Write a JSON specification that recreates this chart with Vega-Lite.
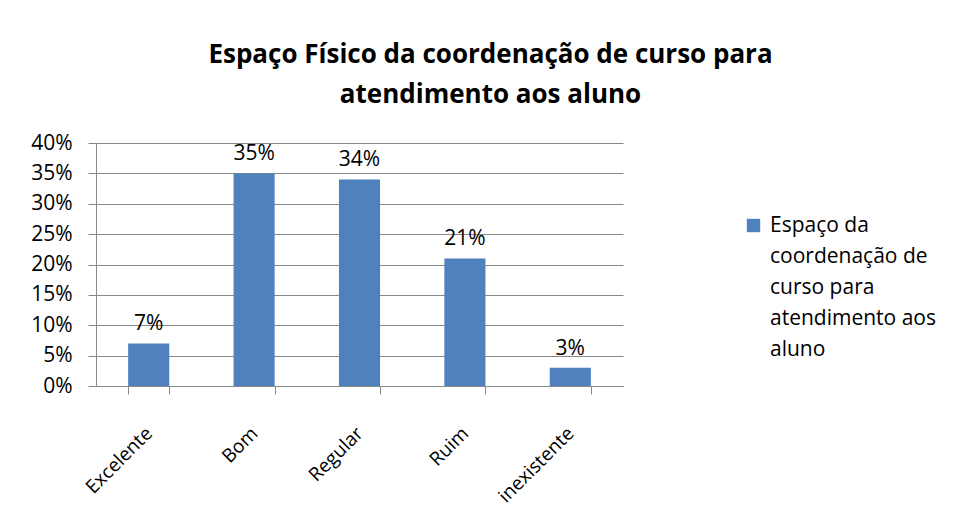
{
  "$schema": "https://vega.github.io/schema/vega-lite/v6.json",
  "autosize": {"type": "none"},
  "width": 527,
  "height": 243,
  "padding": {"left": 96, "top": 143, "right": 331, "bottom": 133},
  "background": "white",
  "title": {
    "text": ["Espaço Físico da coordenação de curso para", "atendimento aos aluno"],
    "font": "Open Sans",
    "fontSize": 26,
    "fontWeight": "bold",
    "color": "#000000",
    "lineHeight": 40,
    "anchor": "middle",
    "frame": "group",
    "dx": 131,
    "offset": 24
  },
  "data": {
    "values": [
      {"categoria": "Excelente", "valor": 0.07, "serie": "Espaço da coordenação de curso para atendimento aos aluno"},
      {"categoria": "Bom", "valor": 0.35, "serie": "Espaço da coordenação de curso para atendimento aos aluno"},
      {"categoria": "Regular", "valor": 0.34, "serie": "Espaço da coordenação de curso para atendimento aos aluno"},
      {"categoria": "Ruim", "valor": 0.21, "serie": "Espaço da coordenação de curso para atendimento aos aluno"},
      {"categoria": "inexistente", "valor": 0.03, "serie": "Espaço da coordenação de curso para atendimento aos aluno"}
    ]
  },
  "encoding": {
    "x": {
      "field": "categoria",
      "type": "nominal",
      "sort": null,
      "scale": {"paddingInner": 0.61, "paddingOuter": 0.305},
      "axis": {
        "title": null,
        "labelAngle": -45,
        "labelAlign": "right",
        "labelBaseline": "middle",
        "labelFont": "Open Sans",
        "labelFontSize": 19,
        "labelColor": "#000000",
        "labelPadding": 36,
        "labelDx": 6,
        "domainColor": "#888888",
        "tickColor": "#888888",
        "tickSize": 8,
        "tickBand": "extent",
        "grid": false
      }
    },
    "y": {
      "field": "valor",
      "type": "quantitative",
      "scale": {"domain": [0, 0.4]},
      "axis": {
        "title": null,
        "format": ".0%",
        "values": [0, 0.05, 0.1, 0.15, 0.2, 0.25, 0.3, 0.35, 0.4],
        "labelFont": "Open Sans",
        "labelFontSize": 21,
        "labelColor": "#000000",
        "labelPadding": 16,
        "domainColor": "#888888",
        "tickColor": "#888888",
        "tickSize": 8,
        "gridColor": "#888888",
        "gridWidth": 1.2,
        "grid": true
      }
    }
  },
  "layer": [
    {
      "mark": {"type": "bar", "color": "#4F81BD"},
      "encoding": {
        "color": {
          "field": "serie",
          "type": "nominal",
          "scale": {"range": ["#4F81BD"]},
          "legend": {
            "title": null,
            "orient": "none",
            "legendX": 647,
            "legendY": 72,
            "symbolType": "square",
            "symbolSize": 180,
            "symbolOpacity": 1,
            "labelFont": "Open Sans",
            "labelFontSize": 21,
            "labelColor": "#000000",
            "labelLimit": 300,
            "labelOffset": 6,
            "labelExpr": "['Espaço da', 'coordenação de', 'curso para', 'atendimento aos', 'aluno']",
            "encode": {"labels": {"update": {"lineHeight": {"value": 31}, "baseline": {"value": "middle"}}}}
          }
        }
      }
    },
    {
      "mark": {"type": "text", "baseline": "bottom", "dy": -9, "font": "Open Sans", "fontSize": 21, "color": "#000000"},
      "encoding": {
        "text": {"field": "valor", "type": "quantitative", "format": ".0%"}
      }
    }
  ],
  "config": {"view": {"stroke": null}}
}
